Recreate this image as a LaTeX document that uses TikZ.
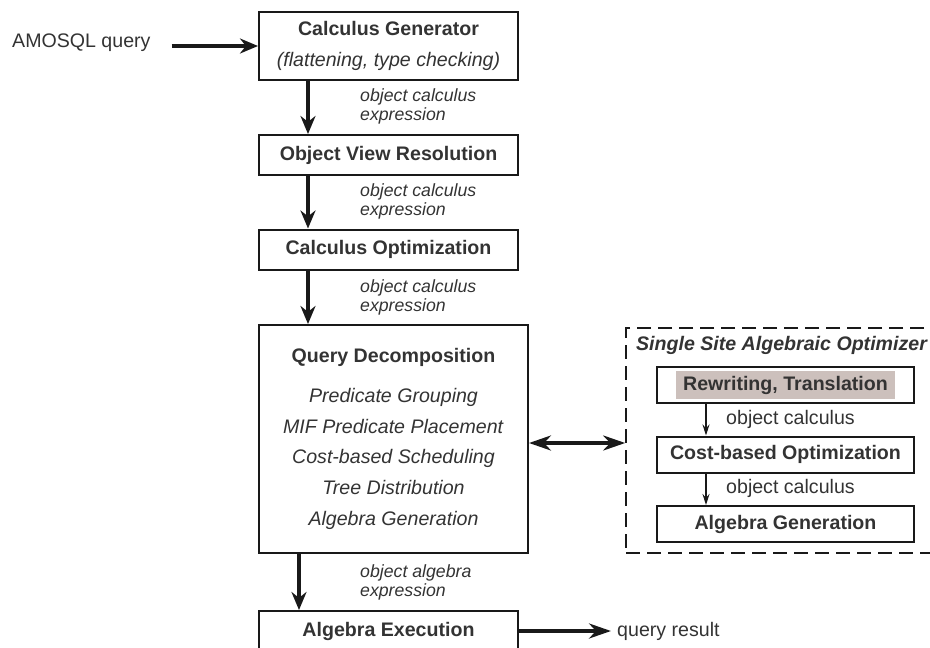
\documentclass[tikz,border=0pt]{standalone}
\usepackage{fontspec}
\setmainfont{Liberation Sans}
\usepackage{xcolor}
\colorlet{TEXTCOLOR}{black!80}
\colorlet{LINECOLOR}{black!90}
\definecolor{MARKCOLOR}{RGB}{204,192,188}
\usepackage{tikz}
\usetikzlibrary{arrows.meta,positioning,calc}
\newcommand\bigFont{\fontsize{19.6pt}{30.7pt}\selectfont}
\newcommand\smallFont{\fontsize{17.7pt}{19.2pt}\selectfont}
\tikzset{
  basic-style/.style = {
    rectangle, draw=LINECOLOR, line width=2pt,
    text=TEXTCOLOR, font=\bigFont\bfseries,
    minimum width=#1, minimum height=40pt,
    inner sep=0pt
  },
  step-style/.style = {
    basic-style=259pt
  },
  decomp-style/.style = {
    basic-style=269pt, minimum height=228pt,
    align=center, font=\bigFont
  },
  inner-style/.style = {
    basic-style=257pt, minimum height=36pt
  },
  mark-style/.style = {
    fill=MARKCOLOR, text=TEXTCOLOR, font=\bigFont\bfseries,
    inner xsep=7pt, inner ysep=0pt, minimum height=28pt
  },
  group-style/.style = {
    draw=LINECOLOR, line width=1.6pt, dash pattern=on 14pt off 7pt,
    minimum width=320pt, minimum height=225pt
  },
  flow-label/.style = {
    anchor=west, align=left, text=TEXTCOLOR,
    font=\smallFont\itshape, inner sep=0pt
  },
  io-label/.style = {
    anchor=west, text=TEXTCOLOR, font=\bigFont, inner sep=0pt
  },
  thin-edge/.style = {
    draw=LINECOLOR, line width=1.3pt, -{Stealth[length=11pt,width=7pt]}
  },
  every edge/.style = {draw=LINECOLOR, line width=4pt, -{Stealth[length=18pt,width=15pt]}}
}
\def\createFlowLabel name:#1 at:#2 text:#3;{
  \node [flow-label] (#1) at (#2) {#3};
}

\begin{document}
\begin{tikzpicture}[x=1pt, y=-1pt]
  \useasboundingbox (0,0) rectangle (930,648);

  % main pipeline
  \node [step-style, minimum height=68pt, align=center, font=\bigFont] (gen) at (388.5,46)
        {\textbf{Calculus Generator}\\\textit{(flattening, type checking)}};
  \node [step-style] (view) at (388.5,155) {Object View Resolution};
  \node [step-style] (calcopt) at (388.5,249.5) {Calculus Optimization};
  \node [decomp-style] (decomp) at (393.5,439)
        {\textbf{Query Decomposition}\\[9pt]
         \textit{Predicate Grouping}\\
         \textit{MIF Predicate Placement}\\
         \textit{Cost-based Scheduling}\\
         \textit{Tree Distribution}\\
         \textit{Algebra Generation}};
  \node [step-style] (exec) at (388.5,631) {Algebra Execution};

  \node [io-label] (amosql) at (12,43) {AMOSQL query};
  \node [io-label] (result) at (617,631) {query result};

  \createFlowLabel name:lbla at:{360,106.5} text:{object calculus\\expression};
  \createFlowLabel name:lblb at:{360,201.5} text:{object calculus\\expression};
  \createFlowLabel name:lblc at:{360,297.5} text:{object calculus\\expression};
  \createFlowLabel name:lbld at:{360,582.5} text:{object algebra\\expression};

  % single site optimizer
  \node [group-style] (ssao) at (786,440.5) {};
  \node [text=TEXTCOLOR, font=\bigFont\bfseries\itshape, inner sep=0pt] (ssaotitle) at (781.5,345)
        {Single Site Algebraic Optimizer};
  \node [inner-style] (rewrite) at (785.5,385) {};
  \node [mark-style] (rewritetext) at (rewrite) {Rewriting, Translation};
  \node [inner-style] (costopt) at (785.5,454.5) {Cost-based Optimization};
  \node [inner-style] (alggen) at (785.5,524) {Algebra Generation};
  \node [io-label] (lble) at (726,419) {object calculus};
  \node [io-label] (lblf) at (726,488) {object calculus};

  % connectors
  \path ([xshift=21pt,yshift=-3pt]amosql.east) edge (gen.west);
  \path ([xshift=50pt]gen.south west) edge ([xshift=50pt]view.north west);
  \path ([xshift=50pt]view.south west) edge ([xshift=50pt]calcopt.north west);
  \path ([xshift=50pt]calcopt.south west) edge ([xshift=50pt]decomp.north west);
  \path ([xshift=41pt]decomp.south west) edge ([xshift=41pt]exec.north west);
  \path (exec.east) edge [shorten >=6pt, -{Stealth[length=22pt,width=15pt]}] (result.west);
  \path ([yshift=-4pt]decomp.east) edge [{Stealth[length=22pt,width=15pt]}-{Stealth[length=22pt,width=15pt]}]
        ([yshift=-4pt]decomp.east -| ssao.west);
  \draw [thin-edge] ([xshift=-79.5pt]rewrite.south) -- ([xshift=-79.5pt]costopt.north);
  \draw [thin-edge] ([xshift=-79.5pt]costopt.south) -- ([xshift=-79.5pt]alggen.north);
\end{tikzpicture}
\end{document}
